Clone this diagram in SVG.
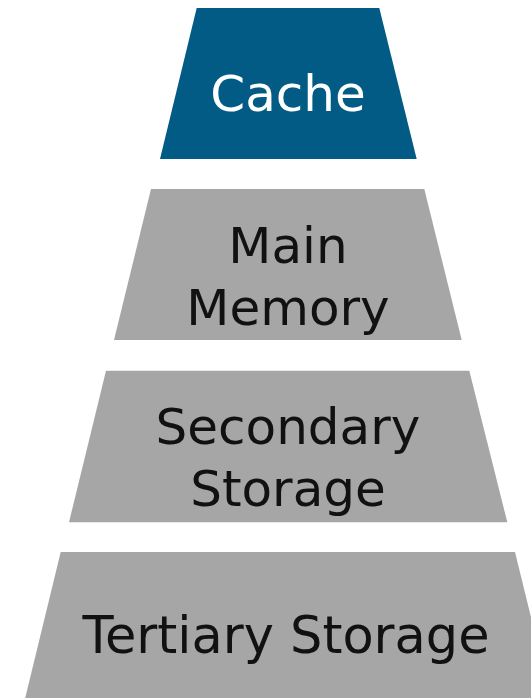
<svg xmlns="http://www.w3.org/2000/svg" width="531" height="698" viewBox="0 0 531 698">
<style>
.tier{fill:#a6a6a6}
.top{fill:#015b84}
.lbl{font-family:"DejaVu Sans","Noto Sans",sans-serif;font-size:50px;text-anchor:middle;fill:#111111}
.lbl.w{fill:#ffffff}
</style>
<rect width="531" height="698" fill="#ffffff"/>
<g id="cache">
<polygon class="top" points="196.7,8 379.3,8 416.7,159 160,159"/>
<text class="lbl w" x="288" y="111">Cache</text>
</g>
<g id="main-memory">
<polygon class="tier" points="151,189 424.3,189 461.7,340 114,340"/>
<text class="lbl" x="288" y="263">Main</text>
<text class="lbl" x="288" y="325">Memory</text>
</g>
<g id="secondary-storage">
<polygon class="tier" points="106,370.7 469.3,370.7 507.3,522.3 69,522.3"/>
<text class="lbl" x="288" y="444">Secondary</text>
<text class="lbl" x="288" y="506">Storage</text>
</g>
<g id="tertiary-storage">
<polygon class="tier" points="60.7,552 515,552 552,703 24,703"/>
<text class="lbl" x="286" y="653" style="font-size:51px">Tertiary Storage</text>
</g>
<g id="connectors"></g>
</svg>
